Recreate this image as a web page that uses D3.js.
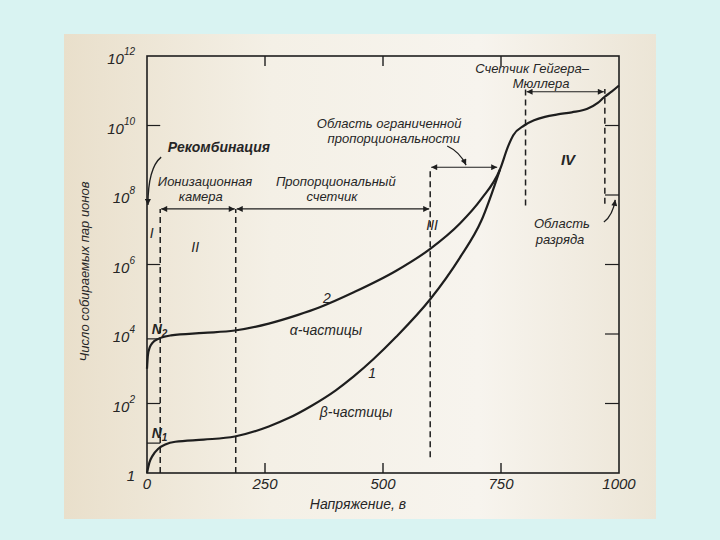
<!DOCTYPE html>
<html>
<head>
<meta charset="utf-8">
<script src="https://cdn.jsdelivr.net/npm/d3@7"></script>
<style>
  body { margin: 0; background: #d9f3f2; }
  svg text { font-family: "Liberation Sans", "DejaVu Sans", sans-serif; font-style: italic; fill: #262626; }
</style>
</head>
<body>
<div id="chart"></div>
<script>
// values: voltage (V) and log10 of the number of ion pairs
var alphaV   = [0, 2, 6, 12, 24, 51, 120, 186, 258, 320, 366, 438, 528, 600, 663, 708, 748, 765, 776, 799, 820, 843, 870, 900, 933, 955, 969, 985, 1000];
var alphaLog = [3.0, 3.4, 3.62, 3.75, 3.86, 3.96, 4.03, 4.10, 4.30, 4.55, 4.77, 5.20, 5.82, 6.45, 7.18, 7.88, 8.74, 9.4, 9.72, 10.0, 10.15, 10.25, 10.32, 10.38, 10.48, 10.65, 10.82, 10.98, 11.15];

var betaV   = [0, 5, 12, 24, 40, 60, 120, 186, 258, 300, 348, 400, 438, 480, 528, 600, 663, 708, 748];
var betaLog = [0, 0.3, 0.5, 0.7, 0.83, 0.9, 0.96, 1.05, 1.34, 1.58, 1.93, 2.38, 2.78, 3.28, 3.92, 5.0, 6.2, 7.25, 8.74];

var xTicks = [0, 250, 500, 750, 1000];
var yTickPowers = [0, 2, 4, 6, 8, 10, 12];

// region boundaries (V) and their extents (log10 N)
var boundaries = [
  {v: 28,  from: 0,    to: 7.6},
  {v: 188, from: 0,    to: 7.6},
  {v: 600, from: 0.45, to: 8.8},
  {v: 802, from: 7.7,  to: 11.05},
  {v: 970, from: 7.75, to: 11.05}
];
var spans = [
  {a: 28,  b: 188, lg: 7.6},
  {a: 188, b: 600, lg: 7.6},
  {a: 600, b: 744, lg: 8.8},
  {a: 802, b: 970, lg: 10.97}
];
var levels = [{name: "N2", lg: 3.86}, {name: "N1", lg: 0.86}];

var labels = [
  {t: "Рекомбинация", v: 44, lg: 9.24, anchor: "start", size: 14, weight: "bold"},
  {t: "Ионизационная", v: 123, lg: 8.27, anchor: "middle", size: 13},
  {t: "камера", v: 114, lg: 7.83, anchor: "middle", size: 13},
  {t: "Пропорциональный", v: 400, lg: 8.27, anchor: "middle", size: 13},
  {t: "счетчик", v: 392, lg: 7.83, anchor: "middle", size: 13},
  {t: "Область ограниченной", v: 513, lg: 9.93, anchor: "middle", size: 13},
  {t: "пропорциональности", v: 523, lg: 9.5, anchor: "middle", size: 13},
  {t: "Счетчик Гейгера–", v: 816, lg: 11.52, anchor: "middle", size: 13},
  {t: "Мюллера", v: 835, lg: 11.08, anchor: "middle", size: 13},
  {t: "IV", v: 892, lg: 8.86, anchor: "middle", size: 15, weight: "bold"},
  {t: "Область", v: 879, lg: 7.05, anchor: "middle", size: 13},
  {t: "разряда", v: 875, lg: 6.6, anchor: "middle", size: 13},
  {t: "I", v: 10, lg: 6.76, anchor: "middle", size: 14},
  {t: "II", v: 102, lg: 6.36, anchor: "middle", size: 14},
  {t: "III", v: 604, lg: 6.99, anchor: "middle", size: 14},
  {t: "2", v: 381, lg: 4.89, anchor: "middle", size: 14},
  {t: "α-частицы", v: 379, lg: 3.97, anchor: "middle", size: 14},
  {t: "1", v: 477, lg: 2.73, anchor: "middle", size: 14},
  {t: "β-частицы", v: 443, lg: 1.61, anchor: "middle", size: 14}
];

// curved leader arrows: start, control, end (V, log10 N)
var leaders = [
  [[30, 9.09], [2, 8.78], [2, 7.71]],
  [[636, 9.41], [663, 9.24], [676, 8.86]],
  [[968, 7.22], [987, 7.42], [992, 7.86]]
];

var width = 720, height = 540;

var svg = d3.select("#chart").append("svg")
    .attr("width", width)
    .attr("height", height);

var defs = svg.append("defs");
var grad = defs.append("linearGradient").attr("id", "paper");
grad.append("stop").attr("offset", "0%").attr("stop-color", "#e9dfcb");
grad.append("stop").attr("offset", "35%").attr("stop-color", "#f4f0e6");
grad.append("stop").attr("offset", "70%").attr("stop-color", "#f7f4ee");
grad.append("stop").attr("offset", "100%").attr("stop-color", "#ece5d6");

defs.append("marker")
    .attr("id", "head")
    .attr("viewBox", "0 0 10 10")
    .attr("refX", 10).attr("refY", 5)
    .attr("markerWidth", 8).attr("markerHeight", 6)
    .attr("markerUnits", "userSpaceOnUse")
    .attr("orient", "auto-start-reverse")
  .append("path")
    .attr("d", "M0,0 L10,5 L0,10 Z")
    .attr("fill", "#1e1e1e");

// scanned page
svg.append("rect")
    .attr("x", 64).attr("y", 34)
    .attr("width", 592).attr("height", 485)
    .attr("fill", "url(#paper)");

var x = d3.scaleLinear().domain([0, 1000]).range([147, 619]);
var y = d3.scaleLog().domain([1, 1e12]).range([473, 56]);
var yl = function(lg) { return y(Math.pow(10, lg)); };

var ink = "#1e1e1e";

// frame
svg.append("rect")
    .attr("x", x(0)).attr("y", y(1e12))
    .attr("width", x(1000) - x(0)).attr("height", y(1) - y(1e12))
    .attr("fill", "none").attr("stroke", ink).attr("stroke-width", 1.6);

// inner ticks
var inner = xTicks.slice(1, 4);
svg.selectAll(".tb").data(inner).enter().append("line")
    .attr("x1", function(d) { return x(d); }).attr("x2", function(d) { return x(d); })
    .attr("y1", y(1)).attr("y2", y(1) - 10)
    .attr("stroke", ink).attr("stroke-width", 1.4);
svg.selectAll(".tt").data(inner).enter().append("line")
    .attr("x1", function(d) { return x(d); }).attr("x2", function(d) { return x(d); })
    .attr("y1", y(1e12)).attr("y2", y(1e12) + 10)
    .attr("stroke", ink).attr("stroke-width", 1.4);
svg.selectAll(".tr").data(yTickPowers.slice(1, 6)).enter().append("line")
    .attr("x1", x(1000)).attr("x2", x(1000) - 14)
    .attr("y1", function(d) { return yl(d); }).attr("y2", function(d) { return yl(d); })
    .attr("stroke", ink).attr("stroke-width", 1.2);
svg.selectAll(".tl").data([2, 6, 10]).enter().append("line")
    .attr("x1", x(0)).attr("x2", x(28))
    .attr("y1", function(d) { return yl(d); }).attr("y2", function(d) { return yl(d); })
    .attr("stroke", ink).attr("stroke-width", 1.2);

// N1 / N2 levels
svg.selectAll(".lev").data(levels).enter().append("line")
    .attr("x1", x(0)).attr("x2", x(28))
    .attr("y1", function(d) { return yl(d.lg); }).attr("y2", function(d) { return yl(d.lg); })
    .attr("stroke", ink).attr("stroke-width", 1.2);
var lev = svg.selectAll(".levt").data(levels).enter().append("text")
    .attr("x", x(10)).attr("y", function(d) { return yl(d.lg) - 5; })
    .style("font-size", "14px").style("font-weight", "bold");
lev.append("tspan").text(function(d) { return d.name[0]; });
lev.append("tspan").attr("dy", 3).style("font-size", "10px").text(function(d) { return d.name[1]; });

// x tick labels
svg.selectAll(".xl").data(xTicks).enter().append("text")
    .attr("x", function(d) { return x(d); })
    .attr("y", y(1) + 16)
    .attr("text-anchor", "middle")
    .style("font-size", "15px")
    .text(function(d) { return d; });

// y tick labels
var yt = svg.selectAll(".yl").data(yTickPowers).enter().append("text")
    .attr("x", x(0) - 12)
    .attr("y", function(d) { return yl(d) + 8; })
    .attr("text-anchor", "end")
    .style("font-size", "15px");
yt.append("tspan").text(function(d) { return d === 0 ? "1" : "10"; });
yt.append("tspan").attr("dy", -9).style("font-size", "10px")
    .text(function(d) { return d === 0 ? "" : d; });

// axis titles
svg.append("text")
    .attr("x", (x(0) + x(1000)) / 2 - 25)
    .attr("y", y(1) + 36)
    .attr("text-anchor", "middle")
    .style("font-size", "14px")
    .text("Напряжение, в");
svg.append("text")
    .attr("transform", "translate(" + 89 + "," + yl(5.8) + ") rotate(-90)")
    .attr("text-anchor", "middle")
    .style("font-size", "13px")
    .text("Число собираемых пар ионов");

// region boundaries
svg.selectAll(".bd").data(boundaries).enter().append("line")
    .attr("x1", function(d) { return x(d.v); }).attr("x2", function(d) { return x(d.v); })
    .attr("y1", function(d) { return yl(d.from); }).attr("y2", function(d) { return yl(d.to); })
    .attr("stroke", ink).attr("stroke-width", 1.5)
    .attr("stroke-dasharray", "6,4");

// double-headed span arrows
svg.selectAll(".sp").data(spans).enter().append("line")
    .attr("x1", function(d) { return x(d.a) + 1; }).attr("x2", function(d) { return x(d.b) - 1; })
    .attr("y1", function(d) { return yl(d.lg); }).attr("y2", function(d) { return yl(d.lg); })
    .attr("stroke", ink).attr("stroke-width", 1.1)
    .attr("marker-start", "url(#head)")
    .attr("marker-end", "url(#head)");

// leaders
svg.selectAll(".ld").data(leaders).enter().append("path")
    .attr("d", function(d) {
        var p = d3.path();
        p.moveTo(x(d[0][0]), yl(d[0][1]));
        p.quadraticCurveTo(x(d[1][0]), yl(d[1][1]), x(d[2][0]), yl(d[2][1]));
        return p.toString();
    })
    .attr("fill", "none").attr("stroke", ink).attr("stroke-width", 1.3)
    .attr("marker-end", "url(#head)");

// curves
var line = d3.line()
    .x(function(d) { return x(d[0]); })
    .y(function(d) { return yl(d[1]); })
    .curve(d3.curveMonotoneX);

svg.append("path")
    .datum(d3.zip(betaV, betaLog))
    .attr("d", line)
    .attr("fill", "none").attr("stroke", ink).attr("stroke-width", 2.2);
svg.append("path")
    .datum(d3.zip(alphaV, alphaLog))
    .attr("d", line)
    .attr("fill", "none").attr("stroke", ink).attr("stroke-width", 2.2);

// annotations
svg.selectAll(".lab").data(labels).enter().append("text")
    .attr("x", function(d) { return x(d.v); })
    .attr("y", function(d) { return yl(d.lg); })
    .attr("text-anchor", function(d) { return d.anchor; })
    .style("font-size", function(d) { return d.size + "px"; })
    .style("font-weight", function(d) { return d.weight || "normal"; })
    .text(function(d) { return d.t; });
</script>
</body>
</html>
